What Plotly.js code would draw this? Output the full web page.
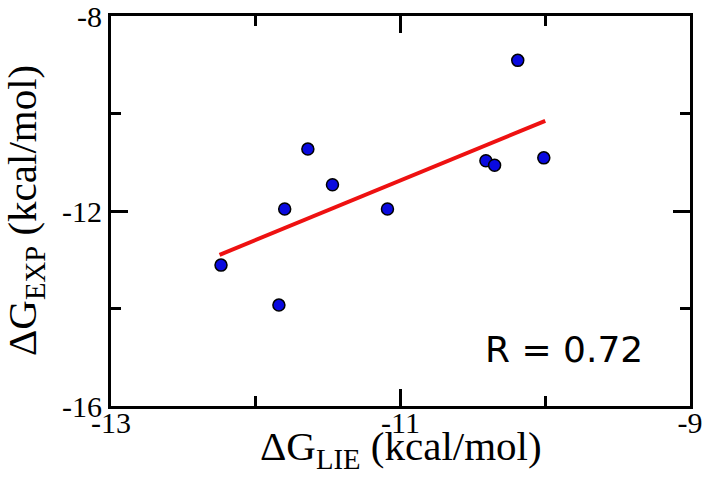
<!DOCTYPE html>
<html>
<head>
    <script src="https://cdn.plot.ly/plotly-3.0.1.min.js"></script>
    <style>
        body { margin: 0; }
        #chart { width: 707px; height: 499px; }
    </style>
</head>
<body>
    <div id="chart"></div>
    <script>
        // ΔG_LIE vs ΔG_EXP (kcal/mol)
        const dgLie = [-12.24, -11.84, -11.80, -11.64, -11.47, -11.09, -10.41, -10.35, -10.19, -10.01];
        const dgExp = [-13.11, -13.93, -11.96, -10.73, -11.46, -11.96, -10.97, -11.06, -8.91, -10.91];
        // fitted line end points
        const fitX = [-12.25, -10.00];
        const fitY = [-12.90, -10.15];

        const xTitle = "ΔG<sub>LIE</sub> (kcal/mol)";
        const yTitle = "ΔG<sub>EXP</sub> (kcal/mol)";
        const rLabel = "R = 0.72";

        const serif = "Liberation Serif, Times New Roman, serif";

        const points = {
            x: dgLie,
            y: dgExp,
            type: "scatter",
            mode: "markers",
            marker: { color: "#0a0adf", size: 12, line: { color: "#000", width: 1.5 } },
        };

        const fit = {
            x: fitX,
            y: fitY,
            type: "scatter",
            mode: "lines",
            line: { color: "#ee1111", width: 4 },
        };

        const axisCommon = {
            showgrid: false,
            zeroline: false,
            showline: true,
            linecolor: "#000",
            linewidth: 3,
            mirror: "all",
            ticks: "inside",
            ticklen: 17,
            tickwidth: 3,
            tickcolor: "#000",
            ticklabeloverflow: "allow",
            tickfont: { family: serif, size: 30, color: "#000" },
        };

        const layout = {
            width: 707,
            height: 499,
            margin: { l: 111, r: 17, t: 16, b: 93 },
            showlegend: false,
            paper_bgcolor: "#fff",
            plot_bgcolor: "#fff",
            xaxis: Object.assign({}, axisCommon, {
                range: [-13, -9],
                tickvals: [-13, -11, -9],
                ticktext: ["-13", "-11", "-9"],
                ticklabelstandoff: -12,
                minor: { tickvals: [-12, -10], ticks: "inside", ticklen: 10, tickwidth: 3, tickcolor: "#000" },
            }),
            yaxis: Object.assign({}, axisCommon, {
                range: [-16, -8],
                tickvals: [-16, -12, -8],
                ticktext: ["-16", "-12", "-8"],
                minor: { tickvals: [-14, -10], ticks: "inside", ticklen: 10, tickwidth: 3, tickcolor: "#000" },
            }),
            annotations: [
                {
                    text: xTitle,
                    xref: "paper", yref: "paper",
                    x: 0.5, y: 0, xanchor: "center", yanchor: "top",
                    yshift: -15,
                    showarrow: false,
                    font: { family: serif, size: 41, color: "#000" },
                },
                {
                    text: yTitle,
                    xref: "paper", yref: "paper",
                    x: 0, y: 0.5, xanchor: "center", yanchor: "middle",
                    xshift: -86,
                    textangle: -90,
                    showarrow: false,
                    font: { family: serif, size: 41, color: "#000" },
                },
                {
                    text: rLabel,
                    xref: "paper", yref: "paper",
                    x: 0.923, y: 0.144, xanchor: "right", yanchor: "middle",
                    showarrow: false,
                    font: { family: "DejaVu Sans, sans-serif", size: 36, color: "#000" },
                },
            ],
        };

        Plotly.newPlot("chart", [fit, points], layout, { staticPlot: true });
    </script>
</body>
</html>
